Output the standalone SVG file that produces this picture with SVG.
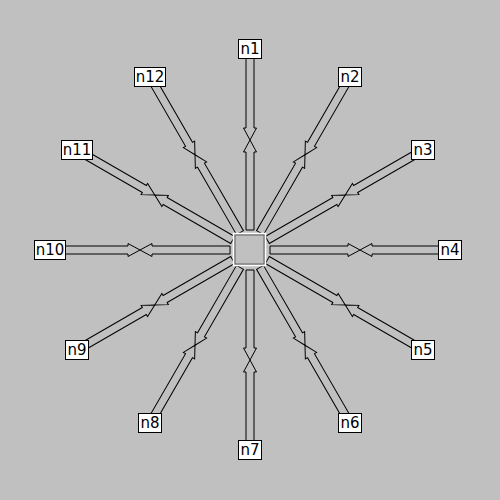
<svg xmlns="http://www.w3.org/2000/svg" width="500" height="500" viewBox="0 0 500 500">
<style>
.bg{fill:#c0c0c0}
.arr{fill:#c0c0c0;stroke:#000;stroke-width:1}
.box{fill:#fff;stroke:#000;stroke-width:1}
.lbl{font-family:"DejaVu Sans",sans-serif;font-size:15px;fill:#000;text-anchor:middle;dominant-baseline:central}
</style>
<defs>
<g id="spoke">
<polygon class="arr" points="246,50 254,50 254,128 256.5,128 250,140 243.5,128 246,128"/>
<polygon class="arr" points="246,230 254,230 254,152 256.5,152 250,140 243.5,152 246,152"/>
</g>
</defs>
<rect class="bg" x="0" y="0" width="500" height="500"/>
<g id="connectors">
<use href="#spoke" transform="rotate(0 250 250)"/>
<use href="#spoke" transform="rotate(30 250 250)"/>
<use href="#spoke" transform="rotate(60 250 250)"/>
<use href="#spoke" transform="rotate(90 250 250)"/>
<use href="#spoke" transform="rotate(120 250 250)"/>
<use href="#spoke" transform="rotate(150 250 250)"/>
<use href="#spoke" transform="rotate(180 250 250)"/>
<use href="#spoke" transform="rotate(210 250 250)"/>
<use href="#spoke" transform="rotate(240 250 250)"/>
<use href="#spoke" transform="rotate(270 250 250)"/>
<use href="#spoke" transform="rotate(300 250 250)"/>
<use href="#spoke" transform="rotate(330 250 250)"/>
</g>
<g id="center">
<rect x="233.5" y="233.5" width="32" height="32" fill="#c0c0c0" stroke="#fff" stroke-width="1.5"/>
<rect x="235" y="235" width="29" height="29" fill="none" stroke="#606060" stroke-width="1"/>
</g>
<g id="n1"><rect class="box" x="238.5" y="39.5" width="23" height="19"/><text class="lbl" x="250" y="49">n1</text></g>
<g id="n2"><rect class="box" x="338.5" y="67.5" width="23" height="19"/><text class="lbl" x="350" y="77">n2</text></g>
<g id="n3"><rect class="box" x="411.5" y="140.5" width="23" height="19"/><text class="lbl" x="423" y="150">n3</text></g>
<g id="n4"><rect class="box" x="438.5" y="240.5" width="23" height="19"/><text class="lbl" x="450" y="250">n4</text></g>
<g id="n5"><rect class="box" x="411.5" y="340.5" width="23" height="19"/><text class="lbl" x="423" y="350">n5</text></g>
<g id="n6"><rect class="box" x="338.5" y="413.5" width="23" height="19"/><text class="lbl" x="350" y="423">n6</text></g>
<g id="n7"><rect class="box" x="238.5" y="440.5" width="23" height="19"/><text class="lbl" x="250" y="450">n7</text></g>
<g id="n8"><rect class="box" x="138.5" y="413.5" width="23" height="19"/><text class="lbl" x="150" y="423">n8</text></g>
<g id="n9"><rect class="box" x="65.5" y="340.5" width="23" height="19"/><text class="lbl" x="77" y="350">n9</text></g>
<g id="n10"><rect class="box" x="34.5" y="240.5" width="31" height="19"/><text class="lbl" x="50" y="250">n10</text></g>
<g id="n11"><rect class="box" x="61.5" y="140.5" width="31" height="19"/><text class="lbl" x="77" y="150">n11</text></g>
<g id="n12"><rect class="box" x="134.5" y="67.5" width="31" height="19"/><text class="lbl" x="150" y="77">n12</text></g>
</svg>
